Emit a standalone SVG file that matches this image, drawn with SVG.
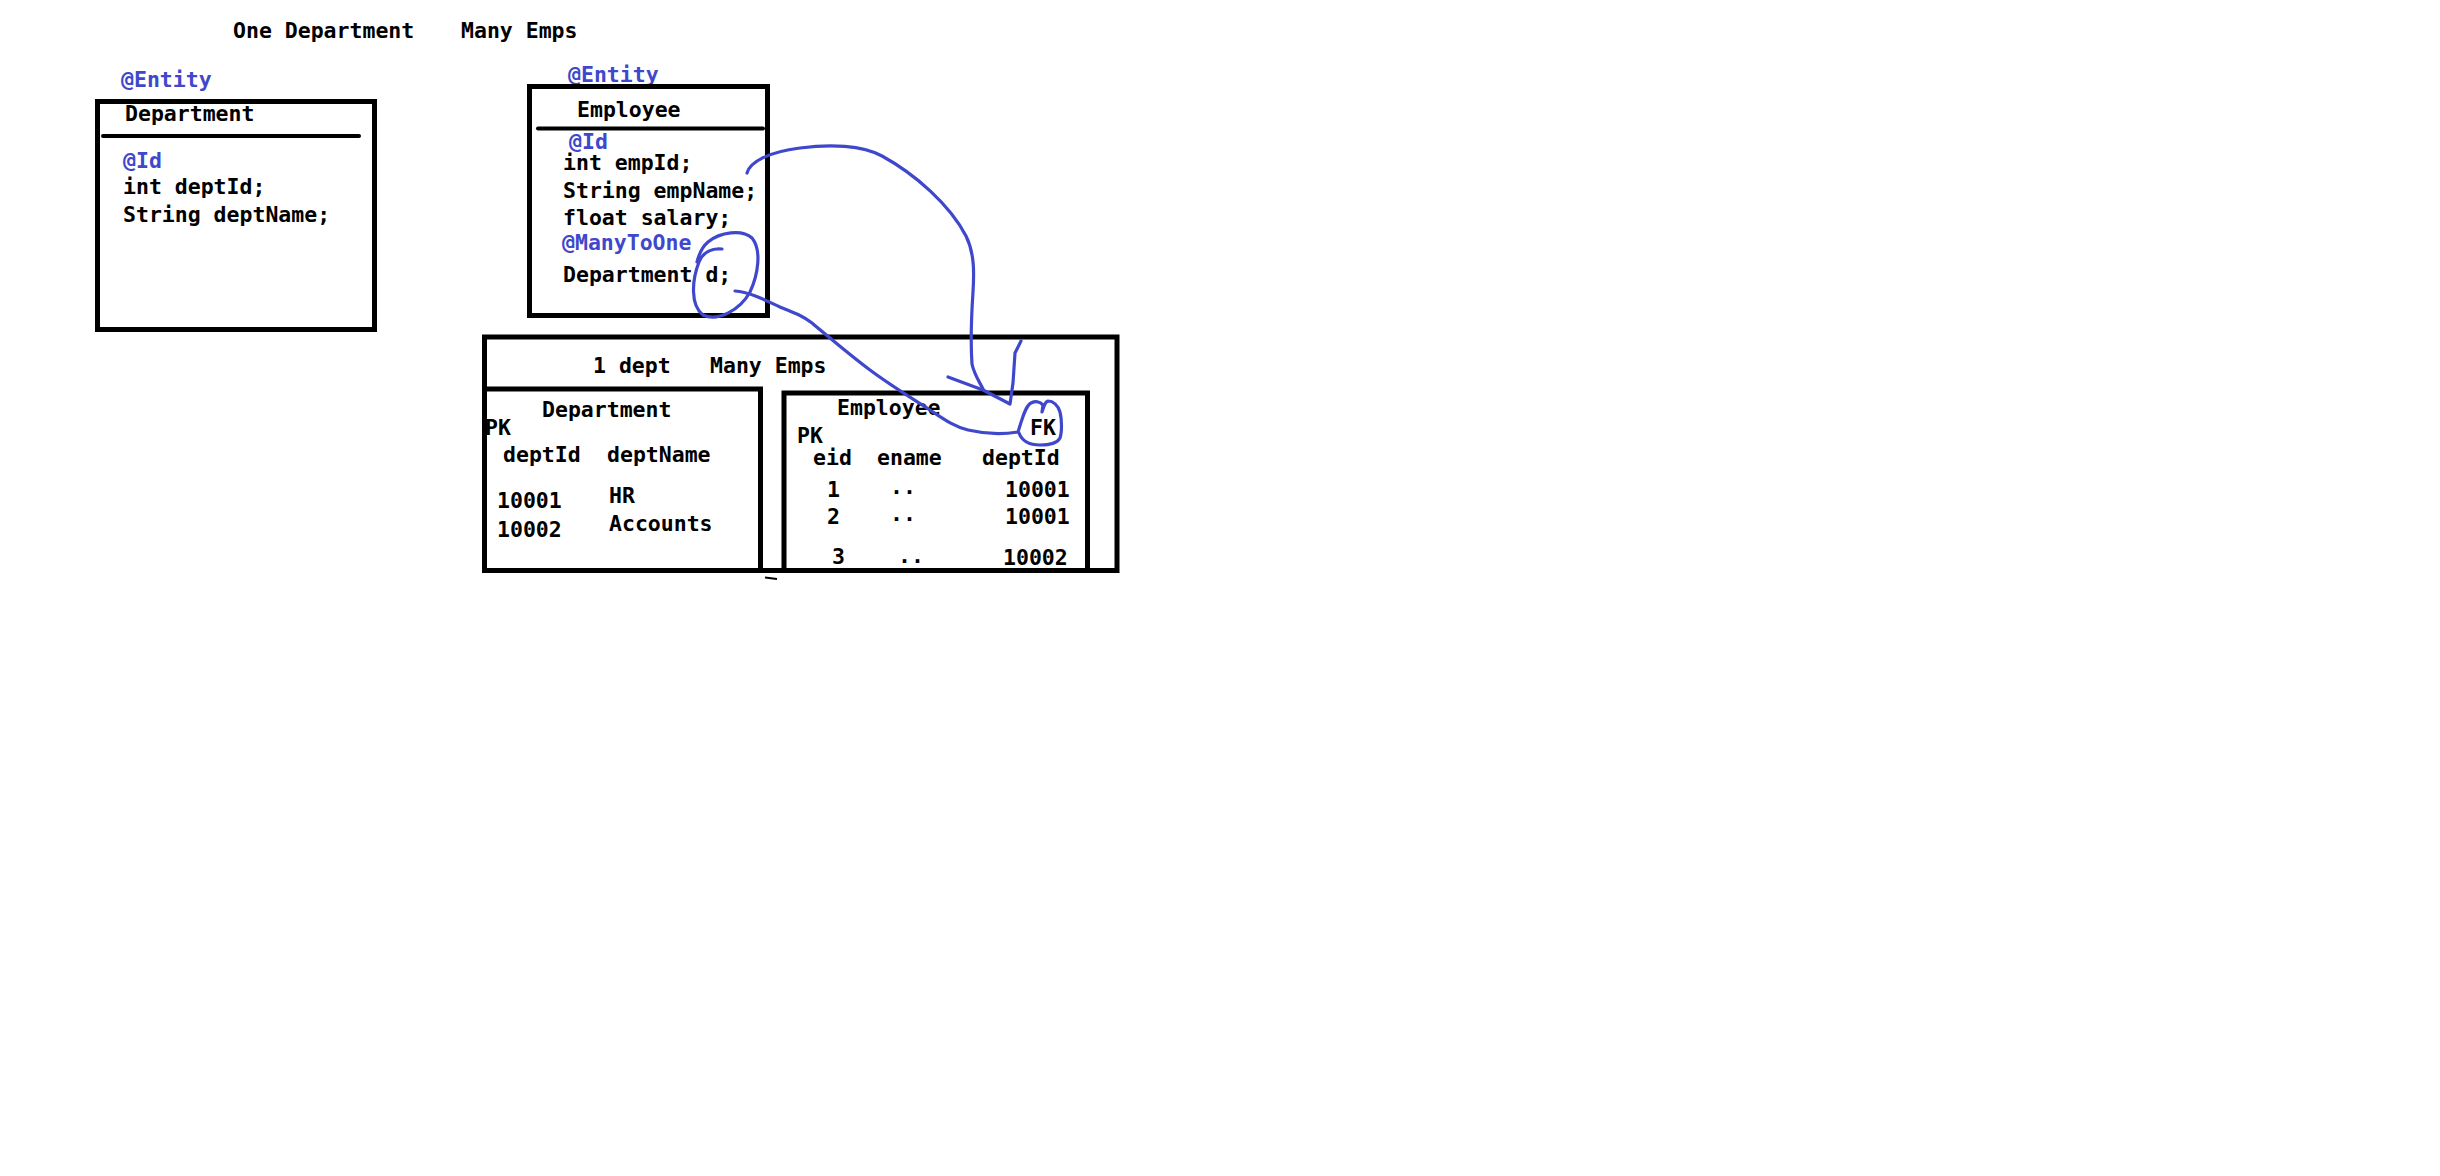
<svg xmlns="http://www.w3.org/2000/svg" width="2440" height="1176" viewBox="0 0 2440 1176">
  <style>
    text { font-family: "DejaVu Sans Mono", "Liberation Mono", monospace; font-weight: bold; font-size: 21.5px; fill: #000; }
    .ann { fill: #3f48cc; }
    .box { fill: none; stroke: #000; stroke-width: 5; }
    .sep { stroke: #000; stroke-width: 4; stroke-linecap: round; }
    .pen { fill: none; stroke: #3f48cc; stroke-width: 3.2; stroke-linecap: round; stroke-linejoin: round; }
  </style>
  <rect width="2440" height="1176" fill="#fff"/>

  <g id="heading">
    <text x="233" y="38">One Department</text>
    <text x="461" y="38">Many Emps</text>
  </g>

  <!-- Department entity class -->
  <g id="department-entity">
    <text class="ann" x="121" y="87">@Entity</text>
    <rect class="box" x="97.5" y="101.5" width="277" height="228"/>
    <text x="125" y="121">Department</text>
    <line class="sep" x1="103" y1="136" x2="359" y2="136"/>
    <text class="ann" x="123" y="168">@Id</text>
    <text x="123" y="194">int deptId;</text>
    <text x="123" y="222">String deptName;</text>
  </g>

  <!-- Employee entity class -->
  <g id="employee-entity">
    <text class="ann" x="568" y="82">@Entity</text>
    <rect class="box" x="529.5" y="86.5" width="238" height="229"/>
    <text x="577" y="117">Employee</text>
    <line class="sep" x1="538" y1="128.5" x2="763" y2="128.5"/>
    <text class="ann" x="569" y="149">@Id</text>
    <text x="563" y="170">int empId;</text>
    <text x="563" y="198">String empName;</text>
    <text x="563" y="225">float salary;</text>
    <text class="ann" x="562" y="250">@ManyToOne</text>
    <text x="563" y="282">Department d;</text>
  </g>

  <!-- Database tables frame -->
  <g id="tables-frame">
    <rect class="box" x="484.5" y="337" width="632.5" height="233.5"/>
    <text x="593" y="373">1 dept</text>
    <text x="710" y="373">Many Emps</text>
    <line x1="765" y1="577.5" x2="777" y2="579" stroke="#000" stroke-width="2"/>
  </g>

  <g id="department-table">
    <rect class="box" x="484.5" y="389" width="276" height="181.5"/>
    <text x="542" y="417">Department</text>
    <text x="485" y="435">PK</text>
    <text x="503" y="462">deptId</text>
    <text x="607" y="462">deptName</text>
    <text x="497" y="508">10001</text>
    <text x="497" y="537">10002</text>
    <text x="609" y="503">HR</text>
    <text x="609" y="531">Accounts</text>
  </g>

  <g id="employee-table">
    <rect class="box" x="784" y="393" width="303.5" height="177.5"/>
    <text x="837" y="415">Employee</text>
    <text x="797" y="443">PK</text>
    <text x="1030" y="435">FK</text>
    <text x="813" y="465">eid</text>
    <text x="877" y="465">ename</text>
    <text x="982" y="465">deptId</text>
    <text x="827" y="497">1</text>
    <text x="890" y="494">..</text>
    <text x="1005" y="497">10001</text>
    <text x="827" y="524">2</text>
    <text x="890" y="521">..</text>
    <text x="1005" y="524">10001</text>
    <text x="832" y="564">3</text>
    <text x="898" y="563">..</text>
    <text x="1003" y="565">10002</text>
  </g>

  <!-- Hand-drawn links between class fields and table columns -->
  <g id="connectors">
    <!-- empId to deptId column, with drawn arrowhead -->
    <path class="pen" d="M747,173 C750,162 768,152 800,148 C830,144 862,145 882,156 C915,174 950,205 966,236 C975,254 974,275 973,292 C971,322 971,350 972,364 C974,374 979,381 983,389"/>
    <path class="pen" d="M948,377 L983,390 L1010,404 L1013,383 L1015,353 L1021,341"/>
    <!-- circle round the relation field -->
    <path class="pen" d="M722,249 C712,248 703,252 699,262 C692,280 690,305 703,315 C718,322 740,310 750,292 C758,275 762,250 752,238 C742,229 720,232 708,242 C702,247 699,254 697,262"/>
    <!-- relation field to the FK column -->
    <path class="pen" d="M735,291 C750,292 765,300 780,307 C795,313 803,316 812,323 C830,338 850,355 870,370 C890,385 910,397 930,410 C945,420 955,427 968,430 C985,434 1005,434 1018,432 C1022,420 1025,406 1031,403 C1035,401 1040,401 1043,405 L1042,412 C1044,406 1045,402 1048,401 C1053,401 1058,405 1060,412 C1062,420 1062,432 1060,438 C1057,444 1048,445 1040,445 C1030,445 1022,441 1019,433"/>
  </g>
</svg>
